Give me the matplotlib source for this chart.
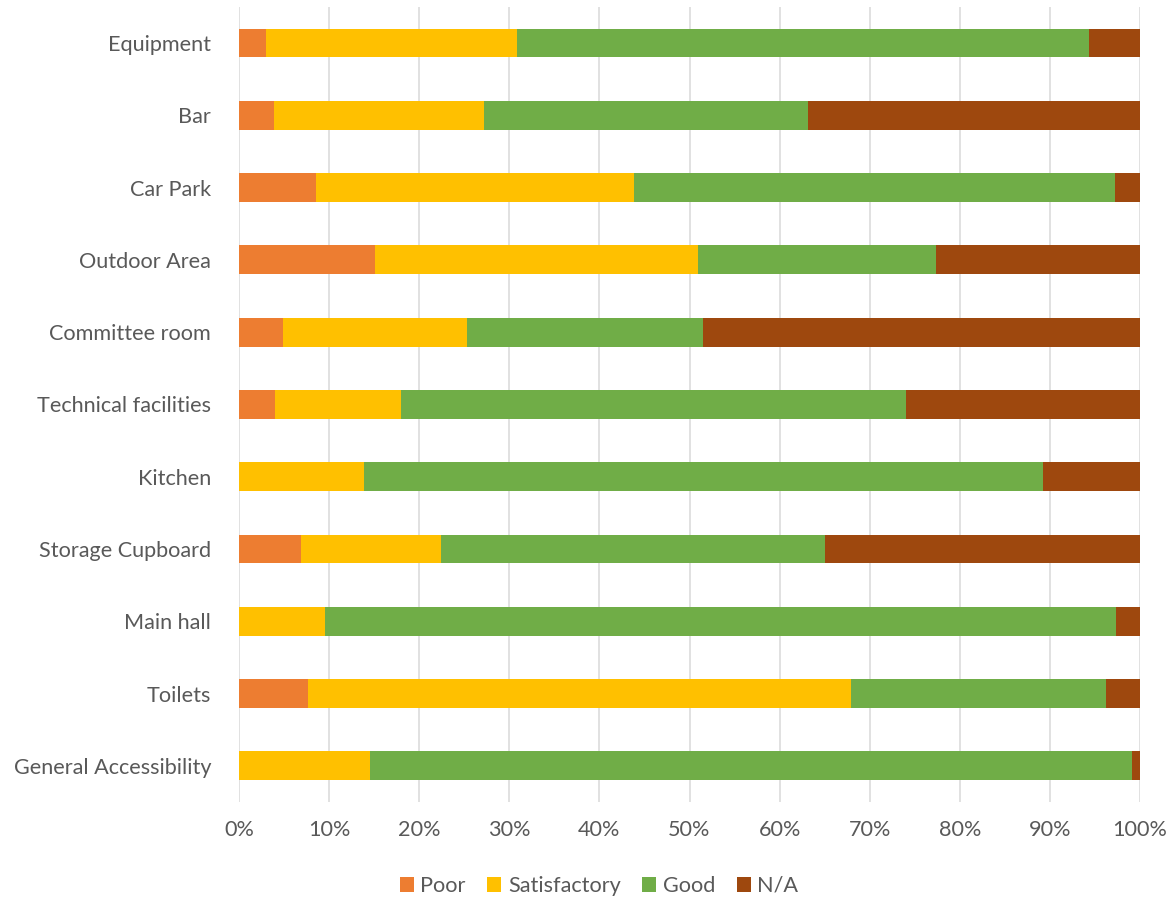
import matplotlib
matplotlib.use("Agg")
import matplotlib.pyplot as plt
import numpy as np
from matplotlib.ticker import PercentFormatter

plt.rcParams['font.family'] = ['Lato', 'DejaVu Sans']

categories = ["Equipment", "Bar", "Car Park", "Outdoor Area", "Committee room",
              "Technical facilities", "Kitchen", "Storage Cupboard", "Main hall",
              "Toilets", "General Accessibility"]
poor = [2.95, 3.9, 8.6, 15.1, 4.9, 4.0, 0.0, 6.9, 0.0, 7.7, 0.0]
satisfactory = [27.85, 23.3, 35.2, 35.8, 20.4, 14.0, 13.9, 15.5, 9.5, 60.2, 14.5]
good = [63.5, 35.9, 53.4, 26.5, 26.2, 56.0, 75.3, 42.6, 87.8, 28.3, 84.6]
na = [5.7, 36.9, 2.8, 22.6, 48.5, 26.0, 10.8, 35.0, 2.7, 3.8, 0.9]

series = [("Poor", poor, "#ED7D31"),
          ("Satisfactory", satisfactory, "#FFC000"),
          ("Good", good, "#70AD47"),
          ("N/A", na, "#9E480E")]

FS = 15.6

fig = plt.figure(figsize=(11.74, 8.99), dpi=100)
ax = fig.add_axes([239/1174, 1 - 802/899, (1140-239)/1174, (802-6.85)/899])

y = np.arange(len(categories))
left = np.zeros(len(categories))
tot = np.array(poor) + np.array(satisfactory) + np.array(good) + np.array(na)
handles = []
for name, vals, col in series:
    pct = np.array(vals, dtype=float) / tot * 100
    h = ax.barh(y, pct, left=left, height=0.4, color=col, label=name, zorder=3)
    handles.append(h)
    left += pct

ax.set_xlim(0, 100)
ax.set_ylim(len(categories) - 0.5, -0.5)
ax.set_yticks(y)
ax.set_yticklabels(categories)
ax.set_xticks(np.arange(0, 101, 10))
ax.xaxis.set_major_formatter(PercentFormatter(decimals=0))
ax.grid(axis='x', color='#D9D9D9', linewidth=1.1, zorder=0)
ax.set_axisbelow(True)
for s in ax.spines.values():
    s.set_visible(False)
ax.tick_params(axis='both', length=0, labelsize=FS, labelcolor='#595959')
ax.tick_params(axis='y', pad=20)
ax.tick_params(axis='x', pad=13)

fig.legend(handles=handles, labels=[s[0] for s in series], loc='center',
           bbox_to_anchor=(599/1174, 1 - 886/899), ncol=4, frameon=False,
           fontsize=FS, labelcolor='#595959', handlelength=0.65, handleheight=0.65,
           handletextpad=0.3, columnspacing=1.0)

fig.savefig("out.png", dpi=100)
